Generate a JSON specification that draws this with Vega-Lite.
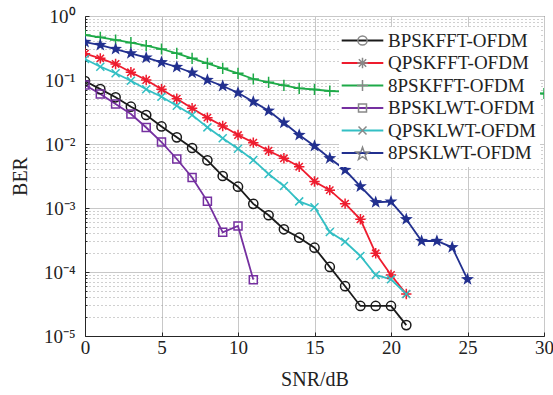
{
  "$schema": "https://vega.github.io/schema/vega-lite/v6.json",
  "width": 459,
  "height": 320,
  "autosize": {"type": "none"},
  "padding": {"left": 85, "top": 16, "right": 9, "bottom": 59},
  "background": "white",
  "config": {
    "view": {"stroke": "#262626", "strokeWidth": 1},
    "font": "Liberation Serif",
    "axis": {
      "labelFont": "Liberation Serif",
      "titleFont": "Liberation Serif",
      "labelColor": "#222",
      "titleColor": "#222",
      "titleFontWeight": "normal",
      "domainColor": "#262626",
      "tickColor": "#262626"
    }
  },
  "data": {
    "values": [
      {"s": "BPSKFFT-OFDM", "x": 0, "ber": 0.0964}, {"s": "BPSKFFT-OFDM", "x": 1, "ber": 0.072}, {"s": "BPSKFFT-OFDM", "x": 2, "ber": 0.0537}, {"s": "BPSKFFT-OFDM", "x": 3, "ber": 0.0383}, {"s": "BPSKFFT-OFDM", "x": 4, "ber": 0.0284}, {"s": "BPSKFFT-OFDM", "x": 5, "ber": 0.0188}, {"s": "BPSKFFT-OFDM", "x": 6, "ber": 0.0127}, {"s": "BPSKFFT-OFDM", "x": 7, "ber": 0.00866}, {"s": "BPSKFFT-OFDM", "x": 8, "ber": 0.00556}, {"s": "BPSKFFT-OFDM", "x": 9, "ber": 0.00316}, {"s": "BPSKFFT-OFDM", "x": 10, "ber": 0.00215}, {"s": "BPSKFFT-OFDM", "x": 11, "ber": 0.00116}, {"s": "BPSKFFT-OFDM", "x": 12, "ber": 0.00077}, {"s": "BPSKFFT-OFDM", "x": 13, "ber": 0.000465}, {"s": "BPSKFFT-OFDM", "x": 14, "ber": 0.000344}, {"s": "BPSKFFT-OFDM", "x": 15, "ber": 0.00024}, {"s": "BPSKFFT-OFDM", "x": 16, "ber": 0.00012}, {"s": "BPSKFFT-OFDM", "x": 17, "ber": 0.00006}, {"s": "BPSKFFT-OFDM", "x": 18, "ber": 0.0000295}, {"s": "BPSKFFT-OFDM", "x": 19, "ber": 0.0000295}, {"s": "BPSKFFT-OFDM", "x": 20, "ber": 0.0000295}, {"s": "BPSKFFT-OFDM", "x": 21, "ber": 0.0000148},
      {"s": "QPSKFFT-OFDM", "x": 0, "ber": 0.258}, {"s": "QPSKFFT-OFDM", "x": 1, "ber": 0.218}, {"s": "QPSKFFT-OFDM", "x": 2, "ber": 0.178}, {"s": "QPSKFFT-OFDM", "x": 3, "ber": 0.132}, {"s": "QPSKFFT-OFDM", "x": 4, "ber": 0.1}, {"s": "QPSKFFT-OFDM", "x": 5, "ber": 0.0716}, {"s": "QPSKFFT-OFDM", "x": 6, "ber": 0.051}, {"s": "QPSKFFT-OFDM", "x": 7, "ber": 0.0361}, {"s": "QPSKFFT-OFDM", "x": 8, "ber": 0.0258}, {"s": "QPSKFFT-OFDM", "x": 9, "ber": 0.0191}, {"s": "QPSKFFT-OFDM", "x": 10, "ber": 0.0138}, {"s": "QPSKFFT-OFDM", "x": 11, "ber": 0.0105}, {"s": "QPSKFFT-OFDM", "x": 12, "ber": 0.00785}, {"s": "QPSKFFT-OFDM", "x": 13, "ber": 0.00598}, {"s": "QPSKFFT-OFDM", "x": 14, "ber": 0.00442}, {"s": "QPSKFFT-OFDM", "x": 15, "ber": 0.0026}, {"s": "QPSKFFT-OFDM", "x": 16, "ber": 0.0019}, {"s": "QPSKFFT-OFDM", "x": 17, "ber": 0.00117}, {"s": "QPSKFFT-OFDM", "x": 18, "ber": 0.000666}, {"s": "QPSKFFT-OFDM", "x": 19, "ber": 0.000196}, {"s": "QPSKFFT-OFDM", "x": 20, "ber": 0.0000898}, {"s": "QPSKFFT-OFDM", "x": 21, "ber": 0.0000453},
      {"s": "8PSKFFT-OFDM", "x": 0, "ber": 0.505}, {"s": "8PSKFFT-OFDM", "x": 1, "ber": 0.465}, {"s": "8PSKFFT-OFDM", "x": 2, "ber": 0.422}, {"s": "8PSKFFT-OFDM", "x": 3, "ber": 0.383}, {"s": "8PSKFFT-OFDM", "x": 4, "ber": 0.344}, {"s": "8PSKFFT-OFDM", "x": 5, "ber": 0.305}, {"s": "8PSKFFT-OFDM", "x": 6, "ber": 0.261}, {"s": "8PSKFFT-OFDM", "x": 7, "ber": 0.218}, {"s": "8PSKFFT-OFDM", "x": 8, "ber": 0.1824}, {"s": "8PSKFFT-OFDM", "x": 9, "ber": 0.1524}, {"s": "8PSKFFT-OFDM", "x": 10, "ber": 0.1273}, {"s": "8PSKFFT-OFDM", "x": 11, "ber": 0.1037}, {"s": "8PSKFFT-OFDM", "x": 12, "ber": 0.092}, {"s": "8PSKFFT-OFDM", "x": 13, "ber": 0.0826}, {"s": "8PSKFFT-OFDM", "x": 14, "ber": 0.0742}, {"s": "8PSKFFT-OFDM", "x": 15, "ber": 0.0711}, {"s": "8PSKFFT-OFDM", "x": 16, "ber": 0.0673}, {"s": "8PSKFFT-OFDM", "x": 17, "ber": 0.066}, {"s": "8PSKFFT-OFDM", "x": 18, "ber": 0.0655}, {"s": "8PSKFFT-OFDM", "x": 19, "ber": 0.065}, {"s": "8PSKFFT-OFDM", "x": 20, "ber": 0.0645}, {"s": "8PSKFFT-OFDM", "x": 21, "ber": 0.064}, {"s": "8PSKFFT-OFDM", "x": 22, "ber": 0.0635}, {"s": "8PSKFFT-OFDM", "x": 23, "ber": 0.063}, {"s": "8PSKFFT-OFDM", "x": 24, "ber": 0.0627}, {"s": "8PSKFFT-OFDM", "x": 25, "ber": 0.0624}, {"s": "8PSKFFT-OFDM", "x": 26, "ber": 0.0621}, {"s": "8PSKFFT-OFDM", "x": 27, "ber": 0.0619}, {"s": "8PSKFFT-OFDM", "x": 28, "ber": 0.0617}, {"s": "8PSKFFT-OFDM", "x": 29, "ber": 0.0616}, {"s": "8PSKFFT-OFDM", "x": 30, "ber": 0.0615},
      {"s": "BPSKLWT-OFDM", "x": 0, "ber": 0.0835}, {"s": "BPSKLWT-OFDM", "x": 1, "ber": 0.0604}, {"s": "BPSKLWT-OFDM", "x": 2, "ber": 0.0422}, {"s": "BPSKLWT-OFDM", "x": 3, "ber": 0.0294}, {"s": "BPSKLWT-OFDM", "x": 4, "ber": 0.0181}, {"s": "BPSKLWT-OFDM", "x": 5, "ber": 0.0107}, {"s": "BPSKLWT-OFDM", "x": 6, "ber": 0.00583}, {"s": "BPSKLWT-OFDM", "x": 7, "ber": 0.003}, {"s": "BPSKLWT-OFDM", "x": 8, "ber": 0.00127}, {"s": "BPSKLWT-OFDM", "x": 9, "ber": 0.000417}, {"s": "BPSKLWT-OFDM", "x": 10, "ber": 0.000523}, {"s": "BPSKLWT-OFDM", "x": 11, "ber": 0.000076},
      {"s": "QPSKLWT-OFDM", "x": 0, "ber": 0.213}, {"s": "QPSKLWT-OFDM", "x": 1, "ber": 0.1614}, {"s": "QPSKLWT-OFDM", "x": 2, "ber": 0.1273}, {"s": "QPSKLWT-OFDM", "x": 3, "ber": 0.0975}, {"s": "QPSKLWT-OFDM", "x": 4, "ber": 0.0716}, {"s": "QPSKLWT-OFDM", "x": 5, "ber": 0.0548}, {"s": "QPSKLWT-OFDM", "x": 6, "ber": 0.0397}, {"s": "QPSKLWT-OFDM", "x": 7, "ber": 0.0284}, {"s": "QPSKLWT-OFDM", "x": 8, "ber": 0.0182}, {"s": "QPSKLWT-OFDM", "x": 9, "ber": 0.0123}, {"s": "QPSKLWT-OFDM", "x": 10, "ber": 0.00845}, {"s": "QPSKLWT-OFDM", "x": 11, "ber": 0.00562}, {"s": "QPSKLWT-OFDM", "x": 12, "ber": 0.0034}, {"s": "QPSKLWT-OFDM", "x": 13, "ber": 0.00221}, {"s": "QPSKLWT-OFDM", "x": 14, "ber": 0.00127}, {"s": "QPSKLWT-OFDM", "x": 15, "ber": 0.00103}, {"s": "QPSKLWT-OFDM", "x": 16, "ber": 0.000422}, {"s": "QPSKLWT-OFDM", "x": 17, "ber": 0.000297}, {"s": "QPSKLWT-OFDM", "x": 18, "ber": 0.000178}, {"s": "QPSKLWT-OFDM", "x": 19, "ber": 0.0000898}, {"s": "QPSKLWT-OFDM", "x": 20, "ber": 0.0000769}, {"s": "QPSKLWT-OFDM", "x": 21, "ber": 0.0000453},
      {"s": "8PSKLWT-OFDM", "x": 0, "ber": 0.392}, {"s": "8PSKLWT-OFDM", "x": 1, "ber": 0.352}, {"s": "8PSKLWT-OFDM", "x": 2, "ber": 0.305}, {"s": "8PSKLWT-OFDM", "x": 3, "ber": 0.261}, {"s": "8PSKLWT-OFDM", "x": 4, "ber": 0.223}, {"s": "8PSKLWT-OFDM", "x": 5, "ber": 0.189}, {"s": "8PSKLWT-OFDM", "x": 6, "ber": 0.1596}, {"s": "8PSKLWT-OFDM", "x": 7, "ber": 0.13}, {"s": "8PSKLWT-OFDM", "x": 8, "ber": 0.1}, {"s": "8PSKLWT-OFDM", "x": 9, "ber": 0.0806}, {"s": "8PSKLWT-OFDM", "x": 10, "ber": 0.0633}, {"s": "8PSKLWT-OFDM", "x": 11, "ber": 0.0458}, {"s": "8PSKLWT-OFDM", "x": 12, "ber": 0.0331}, {"s": "8PSKLWT-OFDM", "x": 13, "ber": 0.0215}, {"s": "8PSKLWT-OFDM", "x": 14, "ber": 0.0138}, {"s": "8PSKLWT-OFDM", "x": 15, "ber": 0.0093}, {"s": "8PSKLWT-OFDM", "x": 16, "ber": 0.00598}, {"s": "8PSKLWT-OFDM", "x": 17, "ber": 0.00392}, {"s": "8PSKLWT-OFDM", "x": 18, "ber": 0.00217}, {"s": "8PSKLWT-OFDM", "x": 19, "ber": 0.00123}, {"s": "8PSKLWT-OFDM", "x": 20, "ber": 0.00126}, {"s": "8PSKLWT-OFDM", "x": 21, "ber": 0.000666}, {"s": "8PSKLWT-OFDM", "x": 22, "ber": 0.000305}, {"s": "8PSKLWT-OFDM", "x": 23, "ber": 0.000305}, {"s": "8PSKLWT-OFDM", "x": 24, "ber": 0.000243}, {"s": "8PSKLWT-OFDM", "x": 25, "ber": 0.0000769}
    ]
  },
  "encoding": {
    "x": {
      "field": "x", "type": "quantitative",
      "scale": {"domain": [0, 30], "nice": false, "zero": false},
      "axis": {
        "values": [0, 5, 10, 15, 20, 25, 30],
        "title": "SNR/dB",
        "titleFontSize": 20,
        "titlePadding": 12,
        "labelFontSize": 19,
        "labelPadding": 6,
        "tickSize": -4,
        "labelFlush": false,
        "grid": true,
        "gridColor": "#c8c8c8",
        "gridWidth": 1
      }
    },
    "y": {
      "field": "ber", "type": "quantitative",
      "scale": {"type": "log", "domain": [0.00001, 1], "nice": false},
      "axis": {
        "values": [0.00001, 0.00002, 0.00003, 0.00004, 0.00005, 0.00006, 0.00007, 0.00008, 0.00009, 0.0001, 0.0002, 0.0003, 0.0004, 0.0005, 0.0006, 0.0007, 0.0008, 0.0009, 0.001, 0.002, 0.003, 0.004, 0.005, 0.006, 0.007, 0.008, 0.009, 0.01, 0.02, 0.03, 0.04, 0.05, 0.06, 0.07, 0.08, 0.09, 0.1, 0.2, 0.3, 0.4, 0.5, 0.6, 0.7, 0.8, 0.9, 1],
        "labelExpr": "abs(log(datum.value)/LN10 - round(log(datum.value)/LN10)) > 0.01 ? '' : '10' + replace(replace(replace(replace(replace(replace(replace('' + round(log(datum.value)/LN10), '-', '⁻'), '0', '⁰'), '1', '¹'), '2', '²'), '3', '³'), '4', '⁴'), '5', '⁵')",
        "title": "BER",
        "titleFontSize": 20,
        "titlePadding": 13,
        "labelFontSize": 19,
        "labelPadding": 14,
        "labelFlush": false,
        "tickSize": {"condition": {"test": "abs(log(datum.value)/LN10 - round(log(datum.value)/LN10)) > 0.01", "value": -2}, "value": -4},
        "grid": true,
        "gridColor": {"condition": {"test": "abs(log(datum.value)/LN10 - round(log(datum.value)/LN10)) > 0.01", "value": "#a0a0a0"}, "value": "#c8c8c8"},
        "gridDash": {"condition": {"test": "abs(log(datum.value)/LN10 - round(log(datum.value)/LN10)) > 0.01", "value": [1, 3]}, "value": []}
      }
    }
  },
  "layer": [
    {
      "mark": {"type": "line", "strokeWidth": 1.8, "clip": true},
      "encoding": {
        "color": {
          "field": "s", "type": "nominal",
          "scale": {
            "domain": ["BPSKFFT-OFDM", "QPSKFFT-OFDM", "8PSKFFT-OFDM", "BPSKLWT-OFDM", "QPSKLWT-OFDM", "8PSKLWT-OFDM"],
            "range": ["#1a1a1a", "#ee1c2e", "#1eaa48", "#7530a0", "#33bfc4", "#22308f"]
          },
          "legend": {
            "orient": "none",
            "legendX": 254,
            "legendY": 11,
            "title": null,
            "fillColor": "white",
            "padding": 4,
            "labelFont": "Liberation Serif",
            "labelFontSize": 19,
            "labelColor": "#222",
            "symbolType": "M-5.2,0L5.2,0",
            "symbolSize": 64,
            "symbolStrokeWidth": 1.8,
            "symbolOffset": 10,
            "labelOffset": 16,
            "rowPadding": 2.5
          }
        }
      }
    },
    {
      "transform": [{"filter": "datum.s !== '8PSKLWT-OFDM'"}],
      "mark": {"type": "point", "filled": false, "size": 64, "strokeWidth": 1.5, "opacity": 1, "clip": true},
      "encoding": {
        "color": {"field": "s", "type": "nominal", "legend": null},
        "shape": {
          "field": "s", "type": "nominal",
          "scale": {
            "domain": ["BPSKFFT-OFDM", "QPSKFFT-OFDM", "8PSKFFT-OFDM", "BPSKLWT-OFDM", "QPSKLWT-OFDM", "8PSKLWT-OFDM", "~"],
            "range": [
              "M-1.15,0A1.15,1.15,0,1,0,1.15,0A1.15,1.15,0,1,0,-1.15,0Z",
              "M-1.3,0L1.3,0M0,-1.3L0,1.3M-0.92,-0.92L0.92,0.92M-0.92,0.92L0.92,-0.92",
              "M-1.4,0L1.4,0M0,-1.4L0,1.4",
              "M-1,-1L1,-1L1,1L-1,1Z",
              "M-1,-1L1,1M-1,1L1,-1",
              "M0,-1.7L0.4,-0.55L1.617,-0.525L0.647,0.21L1,1.375L0,0.68L-1,1.375L-0.647,0.21L-1.617,-0.525L-0.4,-0.55Z",
              "circle"
            ]
          },
          "legend": {
            "orient": "none",
            "legendX": 254,
            "legendY": 11,
            "title": null,
            "values": ["BPSKFFT-OFDM", "QPSKFFT-OFDM", "8PSKFFT-OFDM", "BPSKLWT-OFDM", "QPSKLWT-OFDM", "8PSKLWT-OFDM"],
            "padding": 4,
            "labelFont": "Liberation Serif",
            "labelFontSize": 19,
            "labelColor": "#222",
            "labelOpacity": 0,
            "symbolSize": 64,
            "symbolOffset": 10,
            "labelOffset": 16,
            "rowPadding": 2.5,
            "encode": {
              "symbols": {
                "update": {
                  "stroke": {"signal": "scale('color', datum.value)"},
                  "fill": {"signal": "datum.value === '8PSKLWT-OFDM' ? scale('color', datum.value) : 'transparent'"},
                  "strokeWidth": {"value": 1.5},
                  "opacity": {"value": 1}
                }
              }
            }
          }
        }
      }
    },
    {
      "transform": [{"filter": "datum.s === '8PSKLWT-OFDM'"}],
      "mark": {"type": "point", "filled": true, "size": 64, "opacity": 1, "clip": true},
      "encoding": {
        "color": {"field": "s", "type": "nominal", "legend": null},
        "shape": {"field": "s", "type": "nominal", "legend": null}
      }
    }
  ]
}
